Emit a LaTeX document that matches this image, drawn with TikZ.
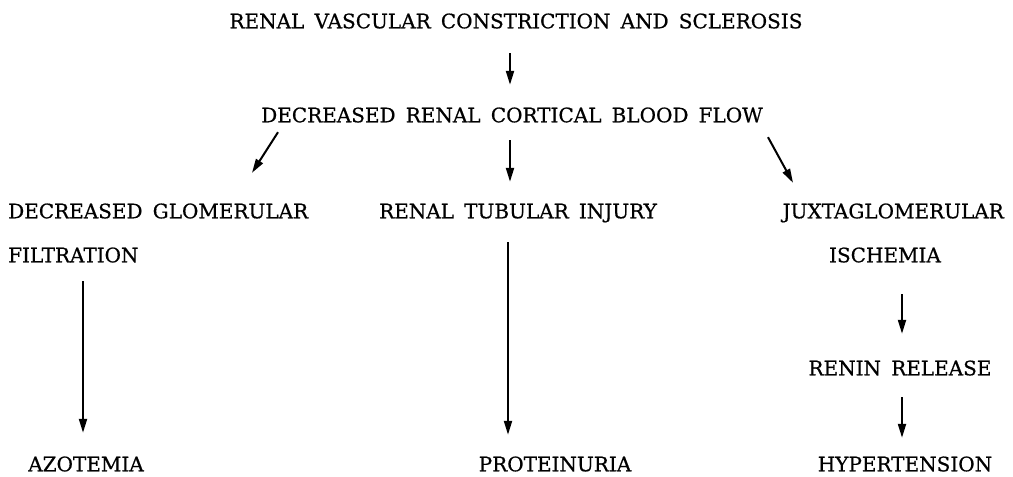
\documentclass[tikz,border=0pt]{standalone}
\usepackage{fontspec}
\setmainfont{DejaVu Serif}[WordSpace=1.6,FakeBold=0.6]
\usetikzlibrary{arrows.meta,calc}
\tikzset{
  lbl/.style={inner sep=0pt, text height=14.6pt, text depth=0pt, font=\fontsize{20}{24}\selectfont},
  arr/.style={line width=2pt, -{Triangle[length=14pt,width=8pt]}}
}
\begin{document}
\begin{tikzpicture}[x=1pt,y=-1pt]
\useasboundingbox (0,0) rectangle (1013,477);
\node[lbl] (title) at (516,21) {RENAL VASCULAR CONSTRICTION AND SCLEROSIS};
\node[lbl] (flow) at (512,115) {DECREASED RENAL CORTICAL BLOOD FLOW};
\node[lbl,anchor=west] (dgf) at (8,211) {DECREASED GLOMERULAR};
\node[lbl,anchor=west] (filt) at (8,255) {FILTRATION};
\node[lbl] (tub) at (518,211) {RENAL TUBULAR INJURY};
\node[lbl,anchor=east] (jux) at (1004,211) {JUXTAGLOMERULAR};
\node[lbl] (isch) at (885,255) {ISCHEMIA};
\node[lbl] (renin) at (900,368) {RENIN RELEASE};
\node[lbl] (azo) at (86,464) {AZOTEMIA};
\node[lbl] (prot) at (555,464) {PROTEINURIA};
\node[lbl] (hyper) at (905,464) {HYPERTENSION};

\draw[arr] ($(title.south)+(-6,24.7)$) -- ($(flow.north)+(-2,-22.7)$);
\draw[arr] ($(flow.south)+(-234,9.7)$) -- ($(dgf.north west)+(244,-30.7)$);
\draw[arr] ($(flow.south)+(-2,17.7)$) -- ($(tub.north)+(-8,-21.7)$);
\draw[arr] ($(flow.south)+(256,14.7)$) -- ($(jux.north east)+(-211,-20.7)$);
\draw[arr] ($(filt.south west)+(75,18.7)$) -- ($(azo.north)+(-3,-23.7)$);
\draw[arr] ($(tub.south)+(-10,23.7)$) -- ($(prot.north)+(-47,-21.7)$);
\draw[arr] ($(isch.south)+(17,31.7)$) -- ($(renin.north)+(2,-26.7)$);
\draw[arr] ($(renin.south)+(2,21.7)$) -- ($(hyper.north)+(-3,-18.7)$);
\end{tikzpicture}
\end{document}
